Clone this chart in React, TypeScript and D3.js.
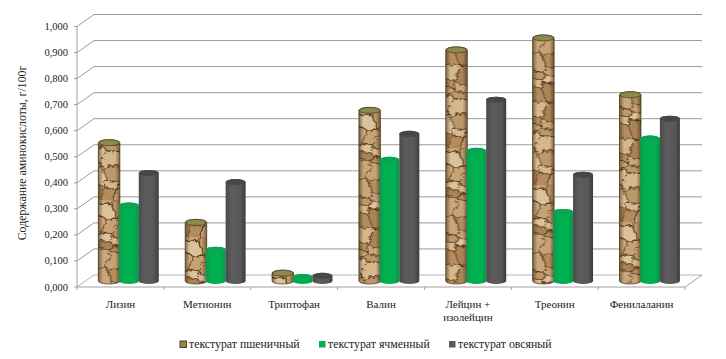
import { Delaunay, scaleBand, scaleLinear, range } from 'd3'

const categories = ['Лизин', 'Метионин', 'Триптофан', 'Валин', 'Лейцин +|изолейцин', 'Треонин', 'Фенилаланин']
const seriesNames = ['текстурат пшеничный', 'текстурат ячменный', 'текстурат овсяный']
const wheat = [0.531, 0.225, 0.03, 0.655, 0.887, 0.933, 0.715]
const barley = [0.29, 0.12, 0.015, 0.465, 0.5, 0.265, 0.547]
const oat = [0.415, 0.38, 0.02, 0.565, 0.696, 0.408, 0.623]
const yTicks = [0, 0.1, 0.2, 0.3, 0.4, 0.5, 0.6, 0.7, 0.8, 0.9, 1]

const width = 726, height = 359
const left = 77, right = 685, bottom = 287, top = 26.5
const depthX = 17, depthY = 12
const serif = '"Liberation Serif", serif'
const barDepthX = 8.5, barDepthY = 6

const y = scaleLinear([0, 1], [bottom, top])
const x0 = scaleBand(categories, [left, right])
const groupW = 59.5
const x1 = scaleBand([0, 1, 2].map(String), [0, groupW])

// rock texture for the wheat bars, cells built from a fixed golden ratio sequence
const tileW = 22, tileH = 200
const seeds = range(34).map(i => [
  ((i * 0.618034) % 1) * tileW,
  ((i * 0.7548777 + 0.13) % 1) * tileH
] as [number, number])
const voronoi = Delaunay.from(seeds).voronoi([-6, -6, tileW + 6, tileH + 6])
const stoneColors = ['#c9a67c', '#bd9868', '#d6b88f', '#b48c5d', '#c7a275', '#dcc29c', '#ab8456']

const cylinder = (cx: number, w: number, yTop: number, yBase: number, ry: number) => {
  const rx = w / 2
  return `M${cx - rx},${yTop}A${rx},${ry} 0 0 1 ${cx + rx},${yTop}L${cx + rx},${yBase}A${rx},${ry} 0 0 1 ${cx - rx},${yBase}Z`
}

function Bar({ cat, s, v }: { cat: number, s: number, v: number }) {
  const name = categories[cat]
  const w = s === 0 ? 21.5 : 20
  const cx = x0(name)! + (x0.bandwidth() - groupW) / 2 + barDepthX + x1(String(s))! + x1.bandwidth() / 2
  const yBase = bottom - barDepthY
  const yTop = y(v) - barDepthY
  const ry = 3
  const body = cylinder(cx, w, yTop, yBase, ry)
  const fills = ['#000', 'url(#greenBody)', 'url(#darkBody)']
  const caps = ['#8c8a4a', '#0aa552', '#474747']
  return (
    <g>
      {s === 0
        ? <path d={body} fill={`url(#stone${cat})`} stroke="#4f4521" strokeWidth={0.8} />
        : <path d={body} fill={fills[s]} />}
      {s === 0 && <path d={body} fill="url(#stoneShade)" />}
      <ellipse cx={cx} cy={yTop} rx={w / 2 - (s === 0 ? 0.5 : 0)} ry={ry} fill={caps[s]}
        stroke={s === 0 ? '#4f4521' : 'none'} strokeWidth={0.8} />
    </g>
  )
}

export default function App() {
  const series = [wheat, barley, oat]
  const legendX = [180, 319, 449]
  return (
    <svg width={width} height={height} viewBox={`0 0 ${width} ${height}`}
      style={{ position: 'absolute', left: 0, top: 0, background: '#fff' }}>
      <defs>
        <filter id="rough" x="-10%" y="-10%" width="120%" height="120%">
          <feTurbulence type="fractalNoise" baseFrequency="0.18" numOctaves={3} seed={4} result="n" />
          <feDisplacementMap in="SourceGraphic" in2="n" scale={7} />
          <feGaussianBlur stdDeviation={0.4} />
        </filter>
        <pattern id="stoneTile" patternUnits="userSpaceOnUse" width={tileW} height={tileH}>
          <rect width={tileW} height={tileH} fill="#bd9868" />
          <g filter="url(#rough)">
            {seeds.map((_, i) => (
              <path key={i} d={voronoi.renderCell(i)} fill={stoneColors[i % stoneColors.length]}
                stroke="#5a3d1e" strokeWidth={i % 3 === 0 ? 1.2 : 0.7} />
            ))}
          </g>
        </pattern>
        {categories.map((name, i) => (
          <pattern key={name} id={`stone${i}`} href="#stoneTile"
            patternTransform={`translate(${x0(name)! + (x0.bandwidth() - groupW) / 2 + barDepthX - 1}, ${i * 37})`} />
        ))}
        <linearGradient id="stoneShade">
          <stop offset="0" stopColor="#2a1c08" stopOpacity={0.5} />
          <stop offset="0.22" stopColor="#2a1c08" stopOpacity={0} />
          <stop offset="0.78" stopColor="#2a1c08" stopOpacity={0} />
          <stop offset="1" stopColor="#2a1c08" stopOpacity={0.5} />
        </linearGradient>
        <linearGradient id="greenBody">
          <stop offset="0" stopColor="#0c9a50" />
          <stop offset="0.3" stopColor="#00b050" />
          <stop offset="0.75" stopColor="#00b050" />
          <stop offset="1" stopColor="#07934b" />
        </linearGradient>
        <linearGradient id="darkBody">
          <stop offset="0" stopColor="#4a4a4a" />
          <stop offset="0.3" stopColor="#5c5c5c" />
          <stop offset="0.75" stopColor="#585858" />
          <stop offset="1" stopColor="#3c3c3c" />
        </linearGradient>
      </defs>

      {/* walls */}
      {yTicks.map(t => (
        <g key={t}>
          <path d={`M${left - 3},${y(t)}H${left}L${left + depthX},${y(t) - depthY}H${right + depthX}`}
            fill="none" stroke={t === 0 ? '#b5b5b5' : '#9a9a9a'} strokeWidth={1} />
          <text x={68} y={y(t) + 3.5} textAnchor="end" fontFamily={serif} fontSize={10.5} fill="#222">
            {t.toFixed(3).replace('.', ',')}
          </text>
        </g>
      ))}
      <path d={`M${left},${top}V${bottom}H${right}L${right + depthX},${bottom - depthY}`}
        fill="none" stroke="#a0a0a0" strokeWidth={1} />
      {range(8).map(i => {
        const tx = left + i * x0.step()
        return <line key={i} x1={tx} x2={tx} y1={bottom} y2={bottom + 3} stroke="#a0a0a0" />
      })}

      {categories.map((name, c) => (
        <g key={name}>
          {series.map((vals, s) => <Bar key={s} cat={c} s={s} v={vals[c]} />)}
          {name.split('|').map((line, l) => (
            <text key={line} x={x0(name)! + x0.bandwidth() / 2} y={308 + l * 13} textAnchor="middle"
              fontFamily={serif} fontSize={11} fill="#222">{line}</text>
          ))}
        </g>
      ))}

      <text transform="translate(25.5,153) rotate(-90)" textAnchor="middle" fontFamily={serif}
        fontSize={11.8} fill="#222">Содержание аминокислоты, г/100г</text>

      {seriesNames.map((name, s) => (
        <g key={name}>
          <rect x={legendX[s]} y={341} width={6.5} height={6.5}
            fill={['#8c8a4a', '#00b050', '#595959'][s]}
            stroke={s === 0 ? '#4f4521' : 'none'} />
          <text x={legendX[s] + 9} y={348} fontFamily={serif} fontSize={11.8} fill="#222">{name}</text>
        </g>
      ))}
    </svg>
  )
}
